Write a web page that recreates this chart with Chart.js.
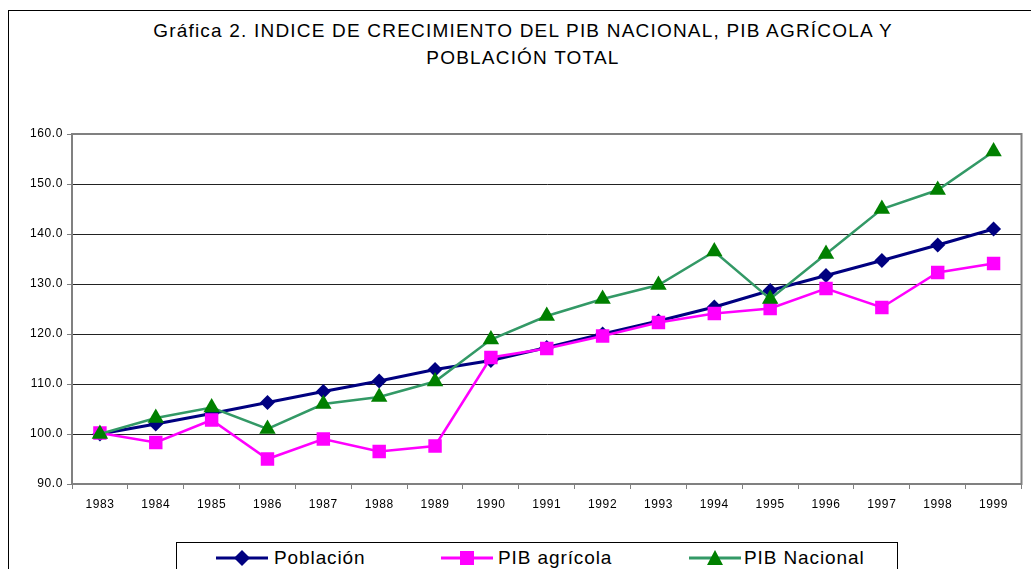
<!DOCTYPE html>
<html>
<head>
<meta charset="utf-8">
<script src="https://cdn.jsdelivr.net/npm/chart.js@4.4.1/dist/chart.umd.min.js"></script>
<style>
  body { margin: 0; background: #fff; font-family: Arial, "Liberation Sans", sans-serif; }
  #wrap { position: relative; width: 1031px; height: 569px; overflow: hidden; }
  #frame { position: absolute; left: 8px; top: 10px; width: 1040px; height: 600px; border: 1px solid #000; }
  #title { position: absolute; left: 8px; top: 17px; width: 1030px; text-align: center; font-size: 19px; line-height: 27px; letter-spacing: 1.2px; color: #000; }
  #chart { position: absolute; left: 0; top: 0; }
  #legend { position: absolute; left: 176px; top: 542px; width: 720px; height: 32px; border: 1px solid #000; background: #fff; }
  .item { position: absolute; top: 3px; font-size: 19px; line-height: 24px; letter-spacing: 0.9px; white-space: nowrap; }
  .item svg { position: absolute; left: 0; top: 2px; }
  .item span { position: absolute; }
</style>
</head>
<body>
<div id="wrap">
  <div id="frame"></div>
  <div id="title">Gráfica 2. INDICE DE CRECIMIENTO DEL PIB NACIONAL, PIB AGRÍCOLA Y<br>POBLACIÓN TOTAL</div>
  <canvas id="chart" width="1031" height="569"></canvas>
  <div id="legend">
    <div class="item" style="left:39px">
      <svg width="52" height="20"><line x1="0" y1="10" x2="52" y2="10" stroke="#000080" stroke-width="3"/><polygon points="26,2 34,10 26,18 18,10" fill="#000080"/></svg>
      <span style="left:58px">Población</span>
    </div>
    <div class="item" style="left:264px">
      <svg width="52" height="20"><line x1="0" y1="10" x2="52" y2="10" stroke="#ff00ff" stroke-width="3"/><rect x="19" y="3" width="14" height="14" fill="#ff00ff"/></svg>
      <span style="left:57px">PIB agrícola</span>
    </div>
    <div class="item" style="left:512px">
      <svg width="52" height="20"><line x1="0" y1="10" x2="52" y2="10" stroke="#339966" stroke-width="3"/><polygon points="26,2 34,17 18,17" fill="#008000"/></svg>
      <span style="left:55px">PIB Nacional</span>
    </div>
  </div>
</div>
<script>
var years = ['1983', '1984', '1985', '1986', '1987', '1988', '1989', '1990', '1991',
    '1992', '1993', '1994', '1995', '1996', '1997', '1998', '1999'];
var poblacion = [100.0, 102.0, 104.1, 106.3, 108.5, 110.6, 112.9, 114.7, 117.3,
    120.0, 122.6, 125.4, 128.7, 131.7, 134.7, 137.8, 141.0];
var pibAgricola = [100.2, 98.3, 102.8, 95.0, 99.0, 96.5, 97.6, 115.3, 117.1,
    119.6, 122.3, 124.1, 125.1, 129.1, 125.3, 132.3, 134.1];
var pibNacional = [100.0, 103.2, 105.3, 101.0, 106.0, 107.4, 110.5, 118.9, 123.6,
    127.0, 129.8, 136.5, 127.0, 136.0, 145.0, 148.8, 156.5];
var yMin = 90, yMax = 160, yStep = 10;

var FONT = 'Arial, "Liberation Sans", sans-serif';

// grey frame round the plot area
var plotFrame = {
    id: 'plotFrame',
    beforeDraw: function (chart) {
        chart.ctx.letterSpacing = '0.6px';
    },
    afterDatasetsDraw: function (chart) {
        var a = chart.chartArea, ctx = chart.ctx;
        ctx.save();
        ctx.strokeStyle = '#808080';
        ctx.lineWidth = 2;
        ctx.strokeRect(a.left, a.top, a.right - a.left, a.bottom - a.top);
        ctx.restore();
    }
};

var ctx = document.getElementById('chart').getContext('2d');
var chart = new Chart(ctx, {
    type: 'line',
    data: {
        labels: years,
        datasets: [{
            label: 'Población',
            data: poblacion,
            borderColor: '#000080',
            backgroundColor: '#000080',
            borderWidth: 3,
            pointStyle: 'rectRot',
            pointRadius: 7.5,
            pointBorderWidth: 0,
            order: 3
        }, {
            label: 'PIB agrícola',
            data: pibAgricola,
            borderColor: '#ff00ff',
            backgroundColor: '#ff00ff',
            borderWidth: 2.5,
            pointStyle: 'rect',
            pointRadius: 9.5,
            pointBorderWidth: 0,
            order: 2
        }, {
            label: 'PIB Nacional',
            data: pibNacional,
            borderColor: '#339966',
            backgroundColor: '#008000',
            borderWidth: 2.5,
            pointStyle: 'triangle',
            pointRadius: 9.5,
            pointBorderWidth: 0,
            order: 1
        }]
    },
    options: {
        responsive: false,
        animation: false,
        layout: { padding: { left: 0, right: 4, top: 134, bottom: 55 } },
        plugins: {
            legend: { display: false },
            title: { display: false },
            tooltip: { enabled: false }
        },
        scales: {
            x: {
                offset: true,
                grid: {
                    offset: true,
                    drawOnChartArea: false,
                    drawTicks: true,
                    tickLength: 5,
                    tickColor: '#808080',
                    tickWidth: 1
                },
                border: { color: '#808080', width: 2 },
                ticks: { color: '#000', font: { family: FONT, size: 12 }, padding: 8, maxRotation: 0 },
                afterFit: function (scale) { scale.height = 30; }
            },
            y: {
                min: yMin,
                max: yMax,
                grid: {
                    color: '#222',
                    lineWidth: 1,
                    drawTicks: true,
                    tickLength: 5,
                    tickColor: '#808080'
                },
                border: { color: '#808080', width: 2 },
                ticks: {
                    stepSize: yStep,
                    color: '#000',
                    padding: 4,
                    font: { family: FONT, size: 12 },
                    callback: function (v) { return v.toFixed(1); }
                },
                afterFit: function (scale) { scale.width = 72; }
            }
        }
    },
    plugins: [plotFrame]
});
</script>
</body>
</html>
